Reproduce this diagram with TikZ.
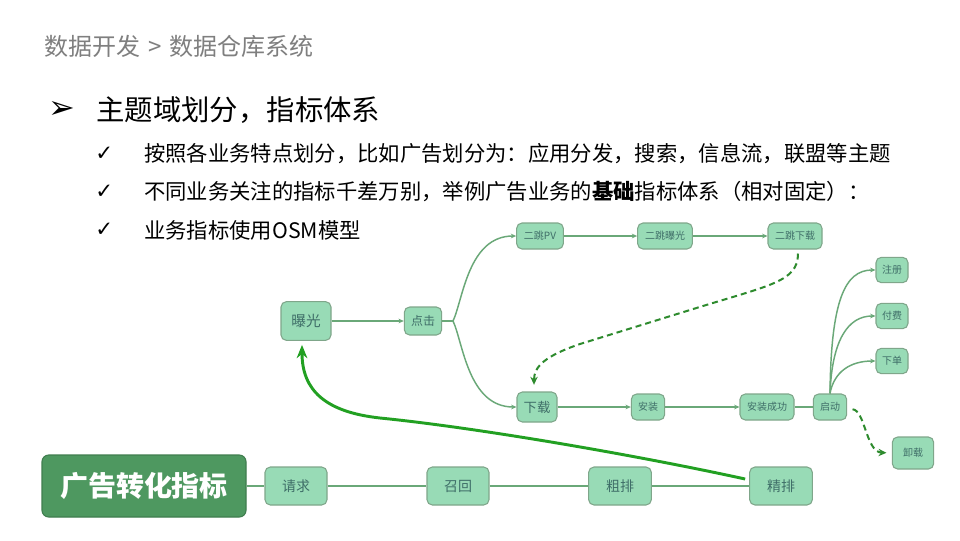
\documentclass[tikz,border=0pt]{standalone}
\usepackage{fontspec}
\setmainfont{Noto Sans CJK SC}
\newfontfamily\dejavu{DejaVu Sans}
\usetikzlibrary{arrows.meta,calc}
\definecolor{nodefill}{HTML}{98DBB6}
\definecolor{nodeborder}{HTML}{7FA68A}
\definecolor{nodetext}{HTML}{3F6E68}
\definecolor{conn}{HTML}{6AA878}
\definecolor{dashgreen}{HTML}{2E8B2E}
\definecolor{thickgreen}{HTML}{22A022}
\definecolor{bigfill}{HTML}{4E9860}
\definecolor{bigborder}{HTML}{3F7D4E}
\definecolor{titlegray}{HTML}{7F7F7F}
\tikzset{
  box/.style={draw=nodeborder, fill=nodefill, rounded corners=4pt, line width=0.8pt,
    text=nodetext, inner sep=0pt, align=center},
  bigbox/.style={draw=bigborder, fill=bigfill, rounded corners=5pt, line width=0.8pt,
    text=white, inner sep=0pt, font=\bfseries\fontsize{21}{24}\selectfont,
    minimum width=153pt, minimum height=46.5pt},
  conline/.style={draw=conn, line width=1.1pt},
  conarrow/.style={conline, -{Stealth[length=4pt,width=3.5pt]}},
  dasharrow/.style={draw=dashgreen, line width=1.5pt, dash pattern=on 4.5pt off 3pt,
    -{Stealth[length=6pt,width=5.5pt]}},
  thickarrow/.style={draw=thickgreen, line width=2.2pt, -{Stealth[length=10pt,width=8pt]}},
  txt/.style={anchor=west, inner sep=0pt},
  check/.style={txt, font=\dejavu\fontsize{16}{18}\selectfont}
}
\begin{document}
\begin{tikzpicture}[x=0.75pt,y=-0.75pt]
\useasboundingbox[fill=white] (0,0) rectangle (960,540);
% header and bullets
\node[txt, text=titlegray, font=\fontsize{18}{20}\selectfont] (hdr) at (44,46) {数据开发\,\,>\,\,数据仓库系统};
\node[txt, font=\dejavu\fontsize{24}{26}\selectfont] (b0) at (48,110) {➢};
\node[txt, font=\fontsize{21.3}{24}\selectfont] (t0) at (96,110) {主题域划分，指标体系};
\node[check] (c1) at (95,154) {✓};
\node[check] (c2) at (95,192) {✓};
\node[check] (c3) at (95,230) {✓};
\node[txt, font=\fontsize{16}{18}\selectfont] (l1) at (144,154) {按照各业务特点划分，比如广告划分为：应用分发，搜索，信息流，联盟等主题};
\node[txt, font=\fontsize{16}{18}\selectfont] (l2) at (144,192) {不同业务关注的指标千差万别，举例广告业务的\textbf{基础}指标体系（相对固定）：};
\node[txt, font=\fontsize{16}{18}\selectfont] (l3) at (144,230) {业务指标使用OSM模型};
% diagram nodes
\node[box, minimum width=37.5pt, minimum height=29pt, font=\fontsize{11}{12}\selectfont] (bg) at (306,321) {曝光};
\node[box, minimum width=28pt, minimum height=21pt, font=\fontsize{9}{10}\selectfont] (dj) at (423,321) {点击};
\node[box, minimum width=35pt, minimum height=19.5pt, font=\fontsize{7.5}{9}\selectfont] (pv) at (540,236) {二跳PV};
\node[box, minimum width=41pt, minimum height=19.5pt, font=\fontsize{7.5}{9}\selectfont] (ebg) at (665,236) {二跳曝光};
\node[box, minimum width=40.5pt, minimum height=19.5pt, font=\fontsize{7.5}{9}\selectfont] (exz) at (795,236) {二跳下载};
\node[box, minimum width=30pt, minimum height=22.5pt, font=\fontsize{10}{12}\selectfont] (xz) at (537,407) {下载};
\node[box, minimum width=25pt, minimum height=19.5pt, font=\fontsize{7.5}{9}\selectfont] (az) at (648,407) {安装};
\node[box, minimum width=40.5pt, minimum height=19.5pt, font=\fontsize{7.5}{9}\selectfont] (azcg) at (767,407) {安装成功};
\node[box, minimum width=25pt, minimum height=19.5pt, font=\fontsize{7.5}{9}\selectfont] (qd) at (830,407) {启动};
\node[box, minimum width=24pt, minimum height=19pt, font=\fontsize{7.5}{9}\selectfont] (zc) at (892,270) {注册};
\node[box, minimum width=24pt, minimum height=19pt, font=\fontsize{7.5}{9}\selectfont] (ff) at (892,316) {付费};
\node[box, minimum width=24pt, minimum height=19pt, font=\fontsize{7.5}{9}\selectfont] (xd) at (892,361) {下单};
\node[box, minimum width=31pt, minimum height=24pt, font=\fontsize{7.5}{9}\selectfont] (xzz) at (913,453) {卸载};
\node[bigbox] (gg) at (144,486) {广告转化指标};
\node[box, minimum width=46.5pt, minimum height=28.5pt, font=\fontsize{10.5}{12}\selectfont] (qq) at (296,486) {请求};
\node[box, minimum width=46.5pt, minimum height=28.5pt, font=\fontsize{10.5}{12}\selectfont] (zh) at (458,486) {召回};
\node[box, minimum width=47pt, minimum height=28.5pt, font=\fontsize{10.5}{12}\selectfont] (cp) at (620,486) {粗排};
\node[box, minimum width=47pt, minimum height=28.5pt, font=\fontsize{10.5}{12}\selectfont] (jp) at (781,486) {精排};
% connectors
\draw[conarrow] (bg) -- (dj);
\coordinate (br) at (453,321);
\draw[conline] (dj.east) -- (br);
\draw[conarrow] (br) .. controls (463,300) and (468,236) .. (pv.west);
\draw[conarrow] (br) .. controls (463,342) and (468,407) .. (xz.west);
\draw[conarrow] (pv) -- (ebg);
\draw[conarrow] (ebg) -- (exz);
\draw[conarrow] (xz) -- (az);
\draw[conarrow] (az) -- (azcg);
\draw[conline] (azcg) -- (qd);
\draw[conarrow] (qd.north) .. controls (831,300) and (845,270) .. (zc.west);
\draw[conarrow] (qd.north) .. controls (832,340) and (848,316) .. (ff.west);
\draw[conarrow] (qd.north) .. controls (834,372) and (850,361) .. (xd.west);
\draw[conline] (gg) -- (qq);
\draw[conline] (qq) -- (zh);
\draw[conline] (zh) -- (cp);
\draw[conline] (cp) -- (jp);
% dashed
\draw[dasharrow, shorten <=3pt, shorten >=5pt] ($(exz.south)+(3,0)$) .. controls (798,282) and (770,285) .. (690,310) -- (580,344) .. controls (545,356) and ($(xz.north)+(-3,-25)$) .. ($(xz.north)+(-3,0)$);
\draw[dasharrow, shorten <=4pt, shorten >=4pt] ($(qd.east)+(0,2)$) .. controls (865,410) and (866,452) .. (xzz.west);
% thick arrow
\draw[thickarrow, shorten >=3pt] ($(jp.west)+(-4,-7)$) .. controls (640,456) and (480,428) .. (380,418) .. controls (325,412) and (302,390) .. ($(bg.south)+(-4,0)$);
\end{tikzpicture}
\end{document}
